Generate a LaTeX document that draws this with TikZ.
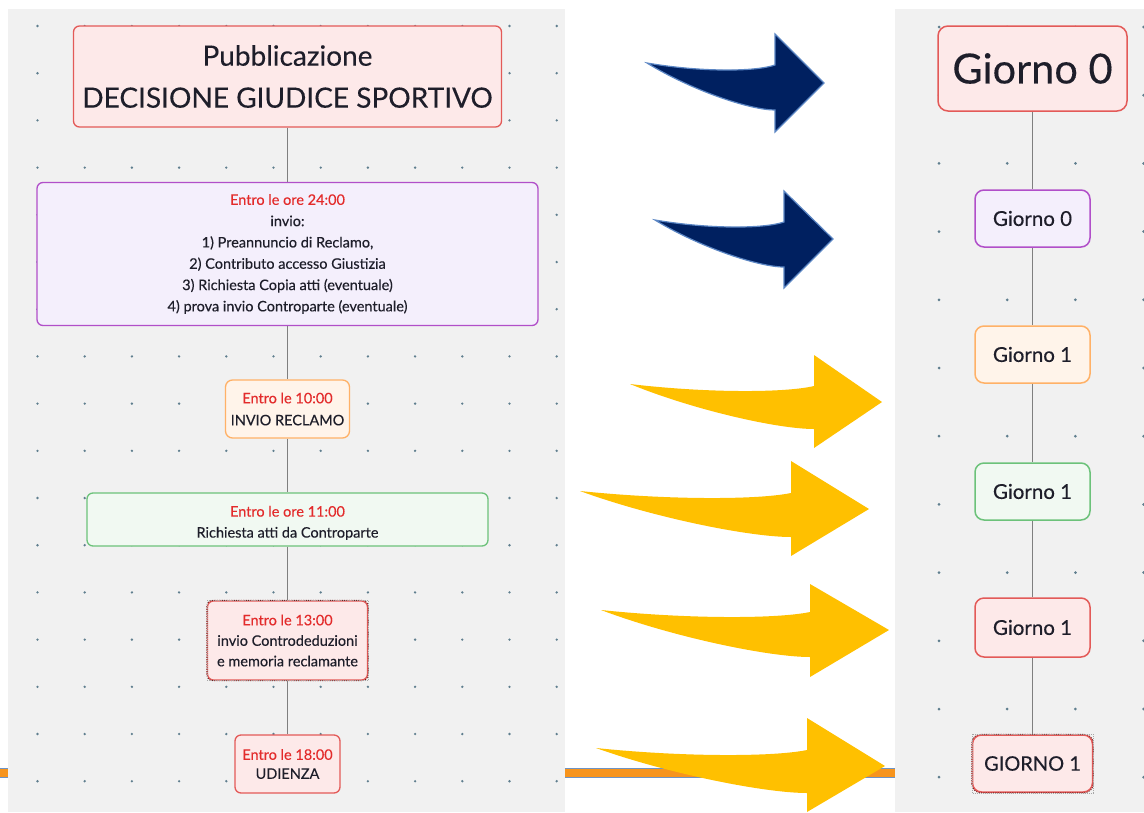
\documentclass[tikz,border=0pt]{standalone}
\usepackage{fontspec}
\setmainfont{Lato}[FakeBold=0.25]
\usetikzlibrary{calc}

\definecolor{panel}{HTML}{F1F1F1}
\definecolor{griddot}{HTML}{5F7E8E}
\definecolor{conn}{HTML}{7F7F7F}
\definecolor{redline}{HTML}{E35A58}
\definecolor{redfill}{HTML}{FDE9E9}
\definecolor{purpline}{HTML}{B14FC9}
\definecolor{purpfill}{HTML}{F4EFFC}
\definecolor{orgline}{HTML}{FFB167}
\definecolor{orgfill}{HTML}{FFF4EA}
\definecolor{grnline}{HTML}{6CC27A}
\definecolor{grnfill}{HTML}{F1F9F2}
\definecolor{redtxt}{HTML}{E32B2B}
\definecolor{ink}{HTML}{1E1E2A}
\definecolor{navy}{HTML}{002060}
\definecolor{navyedge}{HTML}{5B86C4}
\definecolor{gold}{HTML}{FFC000}
\definecolor{bandorg}{HTML}{F7941D}
\definecolor{bandblue}{HTML}{6F93C3}
\definecolor{selred}{HTML}{7A1A1A}

\tikzset{
  size/.style 2 args={minimum width=#1pt, minimum height=#2pt},
  card/.style={rounded corners=6pt, line width=1.3pt, inner sep=0pt,
               align=center, text=ink},
  rcard/.style={rounded corners=9pt, line width=1.5pt, inner sep=0pt,
               align=center, text=ink},
  redcard/.style={draw=redline, fill=redfill},
  purpcard/.style={draw=purpline, fill=purpfill},
  orgcard/.style={draw=orgline, fill=orgfill},
  grncard/.style={draw=grnline, fill=grnfill},
  link/.style={draw=conn, line width=1.2pt},
  navyarrow/.style={fill=navy, draw=navyedge, line width=1.2pt, line join=miter},
  goldarrow/.style={fill=gold},
  selrim/.style={draw=selred, line width=0.8pt, dash pattern=on 1.2pt off 1.2pt},
  selbox/.style={draw=gray!70, line width=0.5pt, dash pattern=on 1pt off 1pt},
}

% curved block arrow: style, tail point, shaft length, head top, tip x, tip y,
% head bottom, shaft bottom (all relative to the tail point)
\newcommand{\swooparrow}[8]{%
  \begin{scope}[shift={(#2)}]
    \path[#1] (0,0) .. controls ({0.41*#3},9) and ({0.84*#3},9) .. (#3,2)
      -- (#3,#4) -- (#5,#6) -- (#3,#7) -- (#3,#8)
      .. controls ({0.8*#3},#8) and ({0.34*#3},{0.57*#8}) .. cycle;
  \end{scope}}

\begin{document}
\begin{tikzpicture}[x=1pt,y=-1pt]
  \useasboundingbox (0,0) rectangle (1144,812);
  \fill[white] (0,0) rectangle (1144,812);

  % horizontal band running behind both panels
  \fill[bandblue] (0,767.5) rectangle (1144,778);
  \fill[bandorg] (0,769) rectangle (1144,776.5);

  % panels
  \fill[panel] (8,9) rectangle (565,812);
  \fill[panel] (895,9) rectangle (1144,812);

  % dot grids
  \foreach \i in {0,...,11}
    \foreach \j in {0,...,16}
      \fill[griddot] ({37.5+47.2*\i},{26+47.2*\j}) circle (1.3pt);
  \foreach \i in {0,...,3}
    \foreach \j in {0,...,11}
      \fill[griddot] ({939+68.2*\i},{27+68.2*\j}) circle (1.5pt);

  % ---------- left timeline ----------
  \node[card, redcard, size={428}{101}, font=\fontsize{28}{42}\selectfont]
    (pub) at (287.5,76.5) {Pubblicazione\\DECISIONE GIUDICE SPORTIVO};

  \node[card, purpcard, size={501}{143}, font=\fontsize{14.5}{21.3}\selectfont]
    (s1) at (287.5,254)
    {\textcolor{redtxt}{Entro le ore 24:00}\\invio:\\1) Preannuncio di Reclamo,\\
     2) Contributo accesso Giustizia\\3) Richiesta Copia atti (eventuale)\\
     4) prova invio Controparte (eventuale)};

  \node[card, orgcard, rounded corners=7pt, size={124}{58}, font=\fontsize{14.5}{22}\selectfont]
    (s2) at (287.5,409) {\textcolor{redtxt}{Entro le 10:00}\\INVIO RECLAMO};

  \node[card, grncard, size={401}{53}] (s3) at (287.5,519.5) {};
  \begin{scope}
    \clip (88,494) rectangle (487,539.5);
    \node[align=center, text=ink, font=\fontsize{14.5}{21}\selectfont]
      (s3t) at (287.5,523) {\textcolor{redtxt}{Entro le ore 11:00}\\Richiesta atti da Controparte};
  \end{scope}

  \node[card, redcard, size={160}{79}, font=\fontsize{14.5}{20.5}\selectfont]
    (s4) at (287.5,640.5)
    {\textcolor{redtxt}{Entro le 13:00}\\invio Controdeduzioni\\e memoria reclamante};
  \draw[selrim, rounded corners=6pt] (s4.south west) rectangle (s4.north east);
  \draw[selbox] (s4.south west) rectangle (s4.north east);

  \node[card, redcard, size={105}{58}, font=\fontsize{14.5}{19}\selectfont]
    (s5) at (287.5,764) {\textcolor{redtxt}{Entro le 18:00}\\UDIENZA};

  \draw[link] (pub) -- (s1);
  \draw[link] (s1) -- (s2);
  \draw[link] (s2) -- (s3);
  \draw[link] (s3) -- (s4);
  \draw[link] (s4) -- (s5);

  % ---------- right timeline ----------
  \node[rcard, redcard, rounded corners=10pt, size={189}{85}, font=\fontsize{41.5}{44}\selectfont]
    (d0) at (1032.5,68.5) {Giorno 0};
  \node[rcard, purpcard, size={115}{57}, font=\fontsize{20.5}{22}\selectfont]
    (d1) at (1032.5,218.5) {Giorno 0};
  \node[rcard, orgcard, size={115}{57}, font=\fontsize{20.5}{22}\selectfont]
    (d2) at (1032.5,354.5) {Giorno 1};
  \node[rcard, grncard, size={115}{57}, font=\fontsize{20.5}{22}\selectfont]
    (d3) at (1032.5,491.5) {Giorno 1};
  \node[rcard, redcard, size={115}{59}, font=\fontsize{20.5}{22}\selectfont]
    (d4) at (1032.5,627.5) {Giorno 1};
  \node[rcard, redcard, size={120}{57}, font=\fontsize{20}{22}\selectfont]
    (d5) at (1032.5,763.5) {GIORNO 1};
  \draw[selrim, rounded corners=9pt] (d5.south west) rectangle (d5.north east);
  \draw[selbox] (d5.south west) rectangle (d5.north east);

  \draw[link] (d0) -- (d1);
  \draw[link] (d1) -- (d2);
  \draw[link] (d2) -- (d3);
  \draw[link] (d3) -- (d4);
  \draw[link] (d4) -- (d5);

  % ---------- block arrows between the panels ----------
  \swooparrow{navyarrow}{647,63}{128}{-29}{177}{20}{69}{47}
  \swooparrow{navyarrow}{655,220}{129}{-29}{178}{19}{68}{47}
  \swooparrow{goldarrow}{630,384}{184}{-29}{252}{18}{64}{45}
  \swooparrow{goldarrow}{580,491}{211}{-30}{289}{18}{65}{46}
  \swooparrow{goldarrow}{601,610}{209}{-26}{288}{20}{67}{47}
  \swooparrow{goldarrow}{596,748}{211}{-30}{289}{18}{64}{45}
\end{tikzpicture}
\end{document}
